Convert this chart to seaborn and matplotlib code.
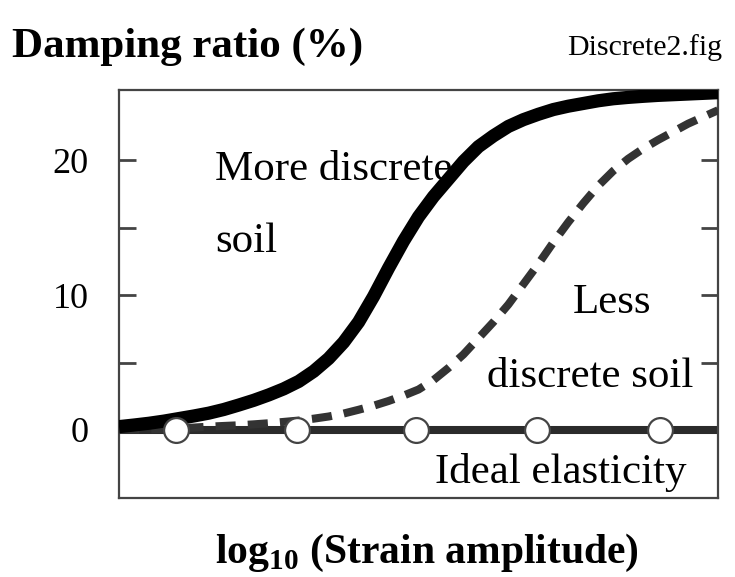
import numpy as np
import pandas as pd
import matplotlib
matplotlib.use("Agg")
import matplotlib.pyplot as plt
import seaborn as sns
from matplotlib.ticker import FixedLocator

# ---- data ----
strain = [0.0, 0.25, 0.5, 0.75, 1.0, 1.25, 1.5, 1.75, 2.0, 2.25, 2.5, 2.75,
          3.0, 3.25, 3.5, 3.75, 4.0, 4.25, 4.5, 4.75, 5.0, 5.25, 5.5, 5.75,
          6.0, 6.25, 6.5, 6.75, 7.0, 7.25, 7.5, 7.75, 8.0, 8.25, 8.5, 8.75,
          9.0, 9.25, 9.5, 9.75, 10.0]
more_discrete = [0.25, 0.37, 0.5, 0.66, 0.85, 1.04, 1.25, 1.52, 1.85, 2.2, 2.6, 3.05,
                 3.6, 4.35, 5.3, 6.5, 8.0, 9.9, 12.0, 14.0, 15.8, 17.3, 18.6, 19.9,
                 21.0, 21.8, 22.5, 23.0, 23.4, 23.75, 24.0, 24.2, 24.4, 24.55, 24.65, 24.73,
                 24.8, 24.85, 24.9, 24.95, 25.0]
less_discrete = [0.0, 0.02, 0.05, 0.08, 0.12, 0.18, 0.25, 0.3, 0.35, 0.42, 0.5, 0.6,
                 0.7, 0.84, 1.0, 1.22, 1.5, 1.8, 2.15, 2.55, 3.0, 3.7, 4.6, 5.6,
                 6.8, 8.0, 9.3, 10.8, 12.3, 13.9, 15.4, 16.8, 18.1, 19.2, 20.1, 20.85,
                 21.5, 22.1, 22.7, 23.2, 23.7]
ideal_x = [0.0, 10.0]
ideal_y = [0.0, 0.0]
circle_x = [0.95, 2.97, 4.95, 6.98, 9.03]
circle_y = [0.0, 0.0, 0.0, 0.0, 0.0]
y_major = [0, 10, 20]
y_minor = [5, 15]
y_labels = ["0", "10", "20"]

df = pd.DataFrame({"strain": strain, "more": more_discrete, "less": less_discrete})

sns.set_theme(style="white")
plt.rcParams["font.family"] = ["Liberation Serif", "DejaVu Serif"]
plt.rcParams["text.color"] = "black"
plt.rcParams["axes.labelcolor"] = "black"
plt.rcParams["ytick.color"] = "black"
plt.rcParams["mathtext.fontset"] = "custom"
plt.rcParams["mathtext.rm"] = "Liberation Serif:bold"
plt.rcParams["mathtext.bf"] = "Liberation Serif:bold"

fig = plt.figure(figsize=(7.35, 5.77), dpi=100)
ax = fig.add_axes([119/735, 1-498/577, (718-119)/735, (498-90)/577])

sns.lineplot(x=ideal_x, y=ideal_y, ax=ax, color="#2b2b2b", lw=5.8,
             solid_capstyle="butt", zorder=2)
sns.lineplot(data=df, x="strain", y="less", ax=ax, color="#333333", lw=5.8,
             linestyle=(0, (2.5, 1.5)), sort=False, zorder=3)
sns.lineplot(data=df, x="strain", y="more", ax=ax, color="black", lw=9.5,
             solid_joinstyle="round", solid_capstyle="butt", sort=False, zorder=4)
sns.scatterplot(x=circle_x, y=circle_y, ax=ax, s=320, marker="o",
                facecolor="white", edgecolor="#444444", linewidth=1.6, zorder=5)

ax.set_xlim(0, 10)
ax.set_ylim(-5.04, 25.2)
ax.set_xticks([])
ax.yaxis.set_major_locator(FixedLocator(y_major))
ax.yaxis.set_minor_locator(FixedLocator(y_minor))
ax.set_yticklabels(y_labels)
ax.tick_params(axis="y", which="both", direction="in", length=12, width=2,
               color="#444444", left=True, right=True, pad=22,
               labelsize=26, labelcolor="black")
ax.set_xlabel("")
ax.set_ylabel("")
for sp in ax.spines.values():
    sp.set_visible(True)
    sp.set_color("#444444")
    sp.set_linewidth(1.6)

txt = dict(fontsize=31, color="black", va="baseline", ha="left")
ax.text(1.6, 18.5, "More discrete", **txt, zorder=1)
ax.text(1.6, 13.2, "soil", **txt)
ax.text(7.58, 8.67, "Less", **txt)
ax.text(6.14, 3.19, "discrete soil", **txt)
ax.text(5.28, -3.93, "Ideal elasticity", **txt)

fig.text(12/735, 1-57/577, "Damping ratio (%)", fontsize=31, fontweight="bold",
         ha="left", va="baseline", color="black")
fig.text(722/735, 1-55/577, "Discrete2.fig", fontsize=21.5,
         ha="right", va="baseline", color="black")
fig.text(427/735, 1-563/577, r"log$_{\mathrm{10}}$ (Strain amplitude)",
         fontsize=30, fontweight="bold", ha="center", va="baseline", color="black")

fig.savefig("out.png", dpi=100)
